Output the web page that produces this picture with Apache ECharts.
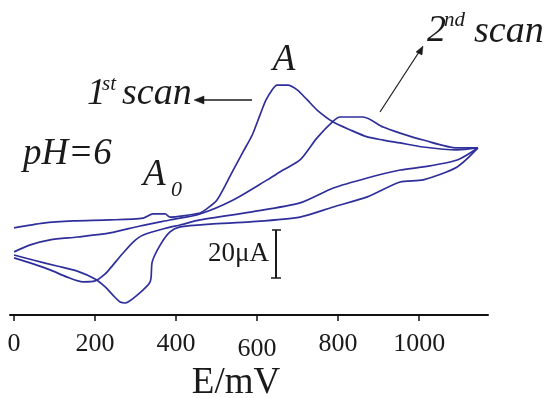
<!DOCTYPE html>
<html><head><meta charset="utf-8">
<script src="https://cdn.jsdelivr.net/npm/echarts@6/dist/echarts.min.js"></script>
<style>html,body{margin:0;padding:0;background:#fff}#c{width:544px;height:398px}</style>
</head><body><div id="c"></div>
<script>
// Potential (mV) and current (µA, arbitrary offset)
const scan1FwdE = [0, 72, 146, 237, 319, 343, 373, 385, 417, 459, 472, 501, 541, 565, 588, 607, 622, 637, 649, 676, 699, 724, 748, 788, 830, 872, 911, 953, 1010, 1094, 1145];
const scan1FwdI = [36.3, 38.3, 39.2, 39.6, 40.4, 42.1, 42.1, 40.8, 41.3, 42.5, 43.8, 47.9, 60.4, 67.9, 75.0, 83.3, 89.6, 93.8, 95.8, 95.8, 93.8, 89.6, 85.4, 80.4, 77.1, 74.2, 72.9, 71.7, 70.0, 68.8, 69.6];

const scan1RevE = [1145, 1094, 1010, 953, 872, 788, 706, 583, 484, 410, 385, 361, 341, 336, 304, 274, 262, 244, 225, 200, 156, 106, 47, 0];
const scan1RevI = [69.6, 61.7, 56.3, 55.4, 49.2, 45.0, 40.8, 38.8, 37.9, 36.7, 34.6, 29.2, 22.1, 13.8, 8.3, 5.0, 5.4, 8.3, 11.7, 15.0, 18.3, 20.4, 22.9, 25.0];

const scan2FwdE = [0, 40, 89, 156, 237, 311, 385, 459, 541, 625, 664, 706, 748, 788, 805, 862, 911, 953, 1010, 1094, 1145];
const scan2FwdI = [26.3, 29.2, 31.3, 32.5, 34.2, 37.1, 39.6, 42.1, 47.9, 56.3, 60.4, 64.6, 73.8, 80.8, 82.5, 82.5, 78.3, 75.8, 72.9, 69.6, 69.6];

const scan2RevE = [1145, 1094, 1010, 953, 872, 788, 706, 583, 459, 410, 378, 319, 294, 267, 244, 225, 200, 170, 131, 89, 47, 0];
const scan2RevI = [69.6, 64.6, 61.7, 60.4, 57.1, 52.9, 46.7, 42.9, 39.6, 37.5, 36.3, 33.3, 30.4, 25.4, 20.8, 17.1, 14.2, 13.8, 15.8, 18.8, 21.3, 23.8];

const tickValues = [0, 200, 400, 600, 800, 1000];

const zip = (a, b) => a.map((v, i) => [v, b[i]]);
const SERIF = '"Liberation Serif", "Times New Roman", serif';
const INK = '#1a1a1a';
const CURVE = '#2f2f9c';

function txt(str, x, baseline, size, italic, align) {
  return {
    type: 'text', x: x, y: baseline - size * 0.34, silent: true,
    style: {
      text: str, fill: INK,
      font: (italic ? 'italic ' : '') + size + 'px ' + SERIF,
      textAlign: align || 'left', verticalAlign: 'middle'
    }
  };
}
function seg(points, w) {
  return { type: 'polyline', silent: true, shape: { points: points },
    style: { stroke: INK, lineWidth: w, fill: null } };
}
function tri(points) {
  return { type: 'polygon', silent: true, shape: { points: points },
    style: { fill: INK, stroke: INK, lineWidth: 0.5 } };
}

const lineSeries = (data) => ({
  type: 'line', data: data, showSymbol: false, symbol: 'none', smooth: 0.25,
  lineStyle: { color: CURVE, width: 1.7 }, silent: true
});

const chart = echarts.init(document.getElementById('c'), null, { renderer: 'canvas' });
chart.setOption({
  animation: false,
  backgroundColor: '#ffffff',
  grid: { left: 10, right: 56, top: 15, bottom: 83 },
  xAxis: {
    type: 'value', min: -10, max: 1170,
    axisLine: { show: true, onZero: false, lineStyle: { color: '#111', width: 2 } },
    axisTick: { show: true, customValues: tickValues, length: 6, lineStyle: { color: '#111', width: 1.5 } },
    axisLabel: {
      customValues: tickValues, margin: 16,
      formatter: v => (v === 600 ? '{lo|' + v + '}' : '{n|' + v + '}'),
      rich: {
        n: { fontFamily: SERIF, fontSize: 26, color: INK },
        lo: { fontFamily: SERIF, fontSize: 26, color: INK, padding: [5, 0, 0, 0] }
      }
    },
    splitLine: { show: false }
  },
  yAxis: { type: 'value', min: 0, max: 125, show: false },
  series: [
    lineSeries(zip(scan1FwdE, scan1FwdI)),
    lineSeries(zip(scan1RevE, scan1RevI)),
    lineSeries(zip(scan2FwdE, scan2FwdI)),
    lineSeries(zip(scan2RevE, scan2RevI))
  ],
  graphic: [
    txt('A', 284, 73, 37, true, 'center'),
    txt('1', 87, 107, 37, true),
    txt('st', 102, 92, 21, true),
    txt('scan', 122, 107, 38, true),
    seg([[252, 100], [200, 100]], 1.6),
    tri([[194, 100], [204, 96], [204, 104]]),
    txt('2', 427, 44, 38, true),
    txt('nd', 444, 28, 21, true),
    txt('scan', 474, 45, 38, true),
    seg([[380, 112], [419, 52]], 1.2),
    tri([[423, 46], [416, 52], [422, 55]]),
    txt('pH=6', 23, 167, 37, true),
    txt('A', 143, 188, 37, true),
    txt('0', 171, 198, 22, true),
    txt('20\u03bcA', 208, 263, 27, false),
    seg([[276, 230], [276, 278]], 2),
    seg([[272, 230], [281, 230]], 1.5),
    seg([[271, 278], [281, 278]], 1.5),
    txt('E/mV', 236, 396, 37, false, 'center')
  ]
});
</script></body></html>
